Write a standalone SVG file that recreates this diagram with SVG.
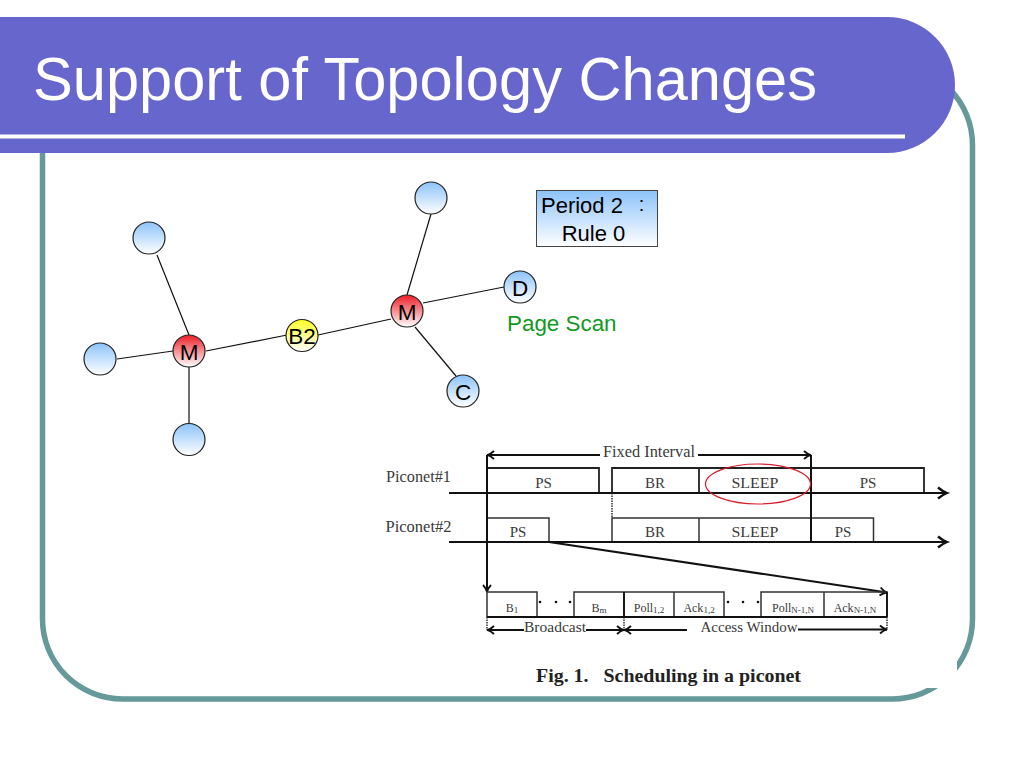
<svg xmlns="http://www.w3.org/2000/svg" width="1024" height="768" viewBox="0 0 1024 768">
<style>
text{font-family:"Liberation Sans",Arial,sans-serif;fill:#000}
.nl{font-size:22.500px;text-anchor:middle}
.n{stroke:#222;stroke-width:1.2}
.c{stroke:#111;stroke-width:1.2;fill:none}
.fig{font-family:"Liberation Serif","Times New Roman",serif;fill:#3a3a3a;text-anchor:middle;font-size:15px}
.lg{font-size:16px}
.sm{font-size:12px}
.sub{font-size:9px}
.a{stroke:#111;stroke-width:2;fill:none}
.d{stroke:#111;stroke-width:1.3;fill:none;stroke-dasharray:1.5 1}
</style>
<defs>
<linearGradient id="gb" x1="0" y1="0" x2="0" y2="1"><stop offset="0" stop-color="#8cc3fa"/><stop offset="1" stop-color="#fff"/></linearGradient>
<linearGradient id="gr" x1="0" y1="0" x2="0" y2="1"><stop offset="0" stop-color="#ee1c25"/><stop offset="1" stop-color="#fff"/></linearGradient>
<linearGradient id="gy" x1="0" y1="0" x2="0" y2="1"><stop offset="0" stop-color="#ffff22"/><stop offset="1" stop-color="#fff"/></linearGradient>
<marker id="big" markerUnits="userSpaceOnUse" markerWidth="14" markerHeight="16" refX="10" refY="7" orient="auto" overflow="visible"><path d="M1 1.500Q5 5 10 7Q5 9 1 12.500" fill="none" stroke="#111" stroke-width="2.400"/></marker>
<marker id="sm" markerUnits="userSpaceOnUse" markerWidth="10" markerHeight="10" refX="8" refY="5" orient="auto" overflow="visible"><path d="M1 1Q4 4 8 5Q4 6 1 9" fill="none" stroke="#111" stroke-width="1.800"/></marker>
</defs>

<g id="frame">
<rect x="42.500" y="65" width="930" height="634" rx="80" ry="80" fill="#fff" stroke="#669999" stroke-width="5.500"/>
<rect x="880" y="630" width="77" height="58" fill="#fff"/>
</g>

<g id="title">
<path d="M0 17H887A68 68 0 0 1 887 153H0Z" fill="#6666cc"/>
<rect x="0" y="134.500" width="905" height="4" fill="#fff"/>
<text x="33" y="100" font-size="62" style="fill:#fff" textLength="784" lengthAdjust="spacingAndGlyphs">Support of Topology Changes</text>
</g>

<g id="connectors">
<line class="c" x1="157" y1="255" x2="189" y2="335"/>
<line class="c" x1="117" y1="359" x2="173" y2="351"/>
<line class="c" x1="189" y1="424" x2="189" y2="367"/>
<line class="c" x1="206" y1="351" x2="287" y2="335"/>
<line class="c" x1="318" y1="335" x2="391" y2="319"/>
<line class="c" x1="407" y1="295" x2="431" y2="214"/>
<line class="c" x1="423" y1="303" x2="504" y2="287"/>
<line class="c" x1="415" y1="327" x2="456" y2="376"/>
</g>

<g id="n1"><circle class="n" cx="149" cy="238" r="16" fill="url(#gb)"/></g>
<g id="n2"><circle class="n" cx="100" cy="359" r="16" fill="url(#gb)"/></g>
<g id="n3"><circle class="n" cx="189" cy="439.500" r="16" fill="url(#gb)"/></g>
<g id="m1"><circle class="n" cx="189" cy="351" r="16" fill="url(#gr)"/><text class="nl" x="189" y="360">M</text></g>
<g id="b2"><circle class="n" cx="302" cy="335.500" r="16" fill="url(#gy)"/><text class="nl" x="302" y="344">B2</text></g>
<g id="m2"><circle class="n" cx="407" cy="311" r="16" fill="url(#gr)"/><text class="nl" x="407" y="320">M</text></g>
<g id="n4"><circle class="n" cx="431" cy="198" r="16" fill="url(#gb)"/></g>
<g id="d"><circle class="n" cx="520" cy="287" r="16" fill="url(#gb)"/><text class="nl" x="520" y="296">D</text></g>
<g id="c"><circle class="n" cx="463" cy="391" r="16" fill="url(#gb)"/><text class="nl" x="463" y="400">C</text></g>

<g id="pagescan"><text x="507" y="331" font-size="22.400" style="fill:#109a1e">Page Scan</text></g>

<g id="period">
<rect x="536.500" y="190.500" width="121" height="56" fill="url(#gb)" stroke="#444" stroke-width="1"/>
<text x="541" y="213" font-size="22">Period 2</text>
<text x="641.500" y="211" font-size="20" text-anchor="middle">:</text>
<text x="593.500" y="241" font-size="22" text-anchor="middle">Rule 0</text>
</g>

<g id="timing">
<path d="M487 493V468H599V493M612 493V468H811V493M699 468V493M811 468H924V493" fill="none" stroke="#222" stroke-width="1.800"/>
<path d="M487 542V518H549V542M612 542V518H873.500V542M699 518V542M811 518V542" fill="none" stroke="#333" stroke-width="1.500"/>
<line class="a" x1="449" y1="493" x2="947" y2="493" marker-end="url(#big)"/>
<line class="a" x1="449" y1="542" x2="947" y2="542" marker-end="url(#big)"/>
<line class="d" x1="612" y1="493" x2="612" y2="518"/>
<line class="a" x1="487" y1="455" x2="487" y2="592" marker-end="url(#sm)"/>
<line class="a" x1="811" y1="455" x2="811" y2="542"/>
<line class="a" x1="600" y1="455" x2="487" y2="455" marker-end="url(#sm)"/>
<line class="a" x1="698" y1="455" x2="811" y2="455" marker-end="url(#sm)"/>
<line class="a" x1="549" y1="542" x2="887" y2="592.500" marker-end="url(#sm)"/>
<ellipse cx="758" cy="484" rx="52.500" ry="20" fill="none" stroke="#d8202e" stroke-width="1.200"/>

<text class="fig lg" x="418.500" y="482" textLength="65" lengthAdjust="spacingAndGlyphs">Piconet#1</text>
<text class="fig lg" x="418.500" y="532" textLength="66" lengthAdjust="spacingAndGlyphs">Piconet#2</text>
<text class="fig lg" x="649" y="457" textLength="92" lengthAdjust="spacingAndGlyphs">Fixed Interval</text>
<text class="fig" x="543.500" y="488">PS</text>
<text class="fig" x="655" y="488">BR</text>
<text class="fig" x="755" y="488" textLength="47" lengthAdjust="spacingAndGlyphs">SLEEP</text>
<text class="fig" x="868" y="488">PS</text>
<text class="fig" x="518" y="537">PS</text>
<text class="fig" x="655" y="537">BR</text>
<text class="fig" x="755" y="537" textLength="47" lengthAdjust="spacingAndGlyphs">SLEEP</text>
<text class="fig" x="843" y="537">PS</text>

<path d="M487 617V592H537V617M574 617V592H624V617M624 592H724V617M674 592V617M761 617V592H887V617M824 592V617" fill="none" stroke="#333" stroke-width="1.500"/>
<line x1="487" y1="617" x2="887" y2="617" stroke="#111" stroke-width="1.800"/>
<line x1="624" y1="592" x2="624" y2="617" stroke="#111" stroke-width="1.800"/>
<line x1="887" y1="592" x2="887" y2="617" stroke="#111" stroke-width="1.800"/>
<path class="d" d="M487 617V630M624 617V630M887 617V630"/>
<g fill="#111"><circle cx="540" cy="602" r="1.300"/><circle cx="556" cy="602" r="1.300"/><circle cx="570" cy="602" r="1.300"/><circle cx="728" cy="602" r="1.300"/><circle cx="743" cy="602" r="1.300"/><circle cx="758" cy="602" r="1.300"/></g>
<line class="a" x1="524" y1="630" x2="487" y2="630" marker-end="url(#sm)"/>
<line class="a" x1="586" y1="630" x2="624" y2="630" marker-end="url(#sm)"/>
<line class="a" x1="687" y1="630" x2="624" y2="630" marker-end="url(#sm)"/>
<line class="a" x1="798" y1="629.500" x2="887" y2="629.500" marker-end="url(#sm)"/>
<text class="fig" x="555" y="632" textLength="62" lengthAdjust="spacingAndGlyphs">Broadcast</text>
<text class="fig" x="749" y="632" textLength="97" lengthAdjust="spacingAndGlyphs">Access Window</text>

<text class="fig sm" x="512" y="612">B<tspan class="sub" dy="1">1</tspan></text>
<text class="fig sm" x="599" y="612">B<tspan class="sub" dy="1">m</tspan></text>
<text class="fig sm" x="649" y="612">Poll<tspan class="sub" dy="1">1,2</tspan></text>
<text class="fig sm" x="699" y="612">Ack<tspan class="sub" dy="1">1,2</tspan></text>
<text class="fig sm" x="793" y="612">Poll<tspan class="sub" dy="1">N-1,N</tspan></text>
<text class="fig sm" x="855" y="612">Ack<tspan class="sub" dy="1">N-1,N</tspan></text>
<text x="536" y="682" font-size="18" font-weight="bold" style="font-family:'Liberation Serif',serif;fill:#222" textLength="265" lengthAdjust="spacingAndGlyphs" xml:space="preserve">Fig. 1.   Scheduling in a piconet</text>
</g>
</svg>
